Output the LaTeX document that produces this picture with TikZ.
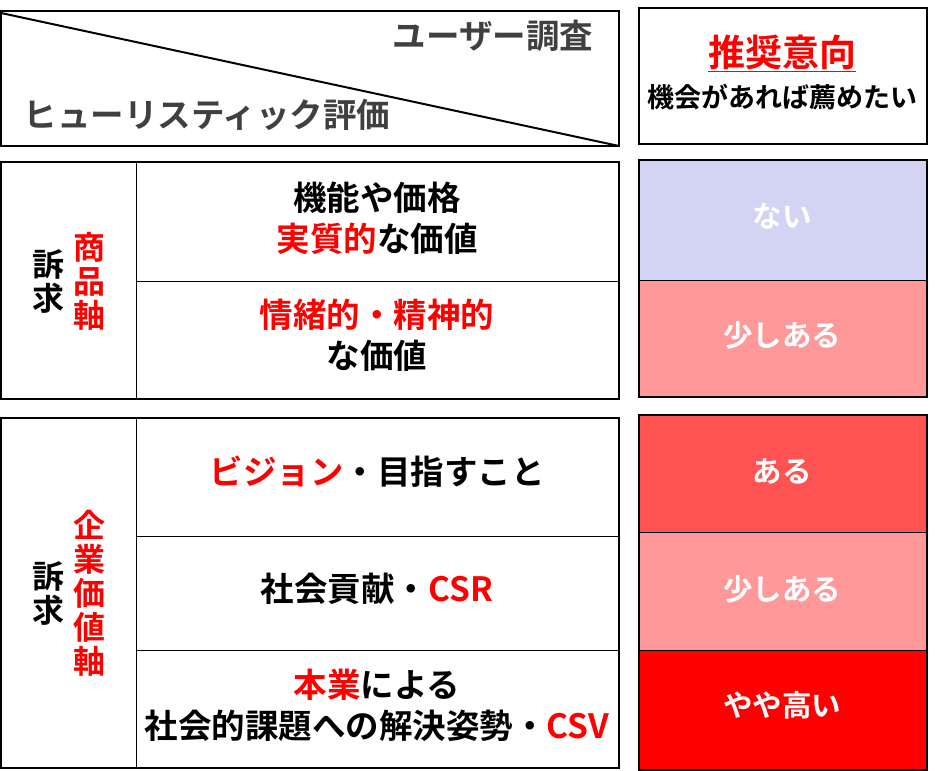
\documentclass[tikz,border=0pt]{standalone}
\usepackage{fontspec}
\setmainfont{Noto Sans CJK JP}[BoldFont={* Bold}]
\usepackage{tikz}
\usetikzlibrary{positioning}

\definecolor{hgray}{HTML}{404040}
\definecolor{accred}{HTML}{FF0000}
\definecolor{lvnone}{HTML}{D3D3F3}
\definecolor{lvlow}{HTML}{FF9999}
\definecolor{lvmid}{HTML}{FF5353}
\definecolor{lvhigh}{HTML}{FF0000}

\begin{document}
\begin{tikzpicture}[
          x=1pt, y=-1pt,
          every node/.style={align=center, font=\fontsize{33.5}{41}\selectfont\bfseries},
          box/.style={line width=1.5pt},
          sep/.style={line width=0.9pt},
          level/.style={text=white, font=\fontsize{29.5}{34}\selectfont\bfseries},
          vtext/.style={font=\fontsize{32}{34}\selectfont\bfseries}
      ]
        \useasboundingbox (0,0) rectangle (935,771);
        % header: diagonal box
        \draw[box] (1,11) rectangle (619,146);
        \draw[line width=2pt] (1,13) -- (619,146);
        \node[text=hgray] (user) at (493,36) {ユーザー調査};
        \node[text=hgray] (heur) at (207,115) {ヒューリスティック評価};
        % header: recommendation
        \draw[box] (639,8) rectangle (927,144);
        \node[text=accred, font=\fontsize{37}{40}\selectfont\bfseries] (rec) at (782,53) {\underline{推奨意向}};
        \node[font=\fontsize{27}{30}\selectfont\bfseries] (recsub) at (782,97) {機会があれば薦めたい};

        % product axis block
        \draw[box] (1,162) rectangle (619,399);
        \draw[sep] (136,162) -- (136,399);
        \draw[sep] (136,281) -- (619,281);
        \node[vtext] (ask1) at (48,281) {訴\\求};
        \node[vtext, text=accred] (ax1) at (89,281) {商\\品\\軸};
        \node (p1) at (377,218) {機能や価格\\\textcolor{accred}{実質的}な価値};
        \node (p2) at (377,335) {\textcolor{accred}{情緒的・精神的}\\な価値};

        % corporate value axis block
        \draw[box] (1,418) rectangle (619,768);
        \draw[sep] (136,418) -- (136,768);
        \draw[sep] (136,536) -- (619,536);
        \draw[sep] (136,650) -- (619,650);
        \node[vtext] (ask2) at (48,593) {訴\\求};
        \node[vtext, text=accred] (ax2) at (89,593) {企\\業\\価\\値\\軸};
        \node (c1) at (377,472) {\textcolor{accred}{ビジョン}・目指すこと};
        \node (c2) at (377,589) {社会貢献・\textcolor{accred}{CSR}};
        \node (c3) at (377,705) {\textcolor{accred}{本業}による\\社会的課題への解決姿勢・\textcolor{accred}{CSV}};

        % recommendation levels
        \fill[lvnone] (639,160) rectangle (927,280);
        \fill[lvlow]  (639,280) rectangle (927,397);
        \draw[sep] (639,280) -- (927,280);
        \draw[box] (639,160) rectangle (927,397);
        \node[level] (r1) at (782,216) {ない};
        \node[level] (r2) at (782,335) {少しある};

        \fill[lvmid]  (639,415) rectangle (927,532);
        \fill[lvlow]  (639,532) rectangle (927,650);
        \fill[lvhigh] (639,650) rectangle (927,770);
        \draw[sep] (639,532) -- (927,532);
        \draw[sep] (639,650) -- (927,650);
        \draw[box] (639,415) rectangle (927,770);
        \node[level] (r3) at (782,472) {ある};
        \node[level] (r4) at (782,589) {少しある};
        \node[level] (r5) at (782,705) {やや高い};
      \end{tikzpicture}
\end{document}
